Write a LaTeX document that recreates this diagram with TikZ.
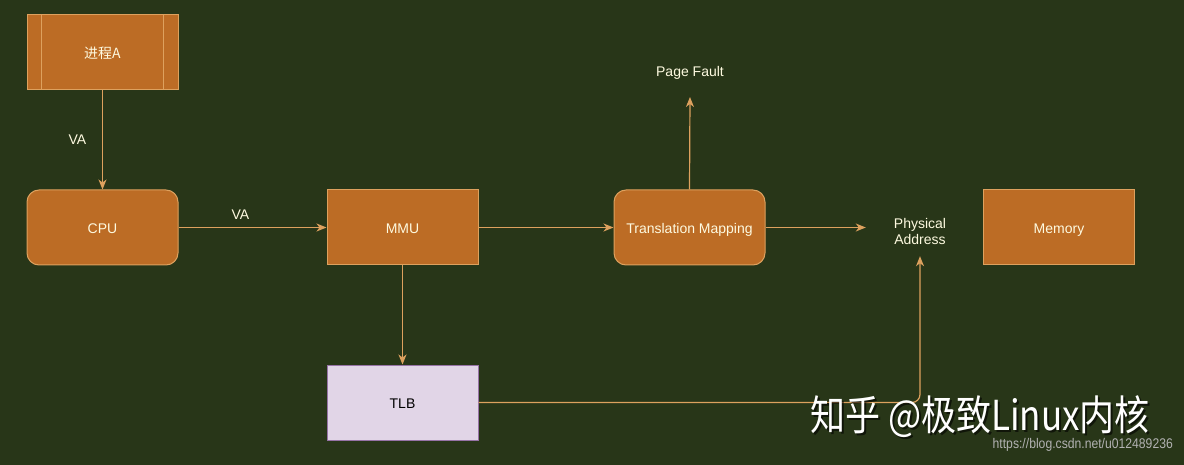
\documentclass[tikz,border=0pt]{standalone}
\usepackage{fontspec}
\setmainfont{Liberation Sans}
\newfontfamily\cjk{Noto Sans CJK SC}
\usetikzlibrary{arrows.meta}
\definecolor{bg}{HTML}{283618}
\definecolor{boxfill}{HTML}{BC6C25}
\definecolor{boxline}{HTML}{DDA15E}
\definecolor{boxtext}{HTML}{FEFAE0}
\definecolor{tlbfill}{HTML}{E1D5E7}
\definecolor{tlbline}{HTML}{9673A6}
\tikzset{
  box/.style={draw=boxline, fill=boxfill, line width=1pt, minimum width=151pt, minimum height=75pt,
    text=boxtext, font=\fontsize{14}{16}\selectfont, inner sep=0pt, text depth=0pt, text height=12pt},
  rbox/.style={box, rounded corners=12pt},
  tlbbox/.style={draw=tlbline, fill=tlbfill, line width=1pt, minimum width=151pt, minimum height=75pt,
    text=black, font=\fontsize{14}{16}\selectfont, inner sep=0pt, text depth=0pt, text height=12pt},
  plain/.style={text=boxtext, font=\fontsize{14}{16}\selectfont, inner sep=0pt, align=center},
  conn/.style={draw=boxline, line width=1.2pt, -{Stealth[length=10pt,width=8pt,inset=3pt]}},
  lbl/.style={text=boxtext, font=\fontsize{14}{16}\selectfont, inner sep=0pt}
}
\begin{document}
\begin{tikzpicture}[x=1pt,y=-1pt]
\fill[bg] (0,0) rectangle (1184,465);
\useasboundingbox (0,0) rectangle (1184,465);
% nodes
\node[box] (proc) at (102.5,52.5) {\cjk 进程A};
\draw[boxline, line width=1pt] ([xshift=15pt]proc.north west) -- ([xshift=15pt]proc.south west)
  ([xshift=-15pt]proc.north east) -- ([xshift=-15pt]proc.south east);
\node[rbox] (cpu) at (102.5,227.5) {CPU};
\node[box] (mmu) at (402.5,227.5) {MMU};
\node[rbox] (tm) at (689.5,227.5) {Translation Mapping};
\node[box] (mem) at (1059,227.5) {Memory};
\node[tlbbox] (tlb) at (402.5,402.5) {TLB};
\node[plain, minimum height=48pt, anchor=south] (pf) at (690,97) {Page Fault};
\node[plain, minimum width=108pt, minimum height=50pt] (pa) at (920,231) {Physical\\Address};
% connectors
\draw[conn] (proc) -- node[lbl, xshift=-25pt] {VA} (cpu);
\draw[conn] (cpu) -- node[lbl, above=7pt, xshift=-12pt] {VA} (mmu);
\draw[conn] (mmu) -- (tm);
\draw[conn] (tm.north) -- (pf.south);
\draw[conn] (tm.east) -- (tm.east -| pa.west);
\draw[conn] (mmu) -- (tlb);
\draw[conn, rounded corners=8pt] (tlb.east) -| (pa.south);
% watermark
\node[anchor=west, text=black, opacity=0.6, font=\cjk\fontsize{35}{40}\selectfont, yscale=1.18, inner sep=0pt] at (812,419) {知乎 @极致Linux内核};
\node[anchor=west, text=white, font=\cjk\fontsize{35}{40}\selectfont, yscale=1.18, inner sep=0pt] (wm) at (810,417) {知乎 @极致Linux内核};
\node[anchor=east, text=black!30, font=\fontsize{14}{16}\selectfont, xscale=0.87, inner sep=0pt] (url) at (1173,445) {https://blog.csdn.net/u012489236};
\end{tikzpicture}
\end{document}
